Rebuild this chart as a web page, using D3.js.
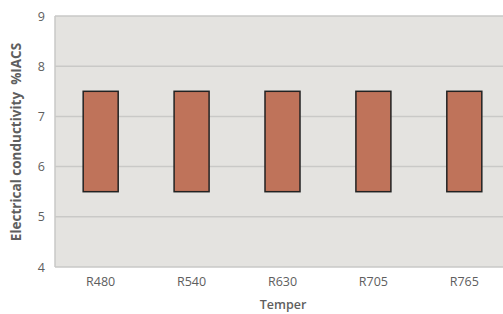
<!DOCTYPE html>
<html>
<head>
<meta charset="utf-8">
<style>
	body { margin: 0; background: #fff; }
	text { font-family: "Open Sans", sans-serif; fill: #5e5e5e; }
	.grid line { stroke: #c9c9c7; stroke-width: 1.5px; }
	.bar { fill: #bf735a; stroke: #222; stroke-width: 1.5px; }
</style>
</head>
<body>
<div id="chart"></div>
<script src="https://d3js.org/d3.v7.min.js"></script>
<script>
	// data
	const tempers = ["R480", "R540", "R630", "R705", "R765"];
	const lowValues = [5.5, 5.5, 5.5, 5.5, 5.5];
	const highValues = [7.5, 7.5, 7.5, 7.5, 7.5];
	const yTicks = [4, 5, 6, 7, 8, 9];

	const svgWidth = 503, svgHeight = 314;
	const margin = { top: 16, right: -7, bottom: 47, left: 55 };
	const width = svgWidth - margin.left - margin.right;
	const height = svgHeight - margin.top - margin.bottom;

	const svg = d3.select("#chart")
		.append("svg")
		.attr("width", svgWidth)
		.attr("height", svgHeight);

	const g = svg.append("g")
		.attr("transform", `translate(${margin.left}, ${margin.top})`);

	const x = d3.scaleBand().domain(tempers).range([0, width]).paddingInner(0.615).paddingOuter(0.31);
	const y = d3.scaleLinear().domain([4, 9]).range([height, 0]);

	// plot background
	g.append("rect")
		.attr("width", width)
		.attr("height", height)
		.attr("fill", "#e4e3e0");

	// gridlines
	g.append("g")
		.attr("class", "grid")
		.selectAll("line")
		.data(yTicks)
		.join("line")
		.attr("x1", 0)
		.attr("x2", width)
		.attr("y1", d => y(d))
		.attr("y2", d => y(d));

	// left border
	g.append("line")
		.attr("x1", 0).attr("x2", 0)
		.attr("y1", 0).attr("y2", height)
		.attr("stroke", "#c9c9c7")
		.attr("stroke-width", 1.5);

	// floating bars
	g.selectAll(".bar")
		.data(tempers)
		.join("rect")
		.attr("class", "bar")
		.attr("x", d => x(d))
		.attr("width", x.bandwidth())
		.attr("y", (d, i) => y(highValues[i]))
		.attr("height", (d, i) => y(lowValues[i]) - y(highValues[i]));

	// y axis
	const yAxis = g.append("g")
		.call(d3.axisLeft(y).tickValues(yTicks).tickSize(0).tickPadding(10).tickFormat(d3.format("d")));
	yAxis.select(".domain").remove();
	yAxis.selectAll("text").style("font-size", "12.5px");

	// x axis
	const xAxis = g.append("g")
		.attr("transform", `translate(0, ${height})`)
		.call(d3.axisBottom(x).tickSize(0).tickPadding(10));
	xAxis.select(".domain").remove();
	xAxis.selectAll("text").style("font-size", "12.5px");

	// axis titles
	svg.append("text")
		.attr("x", 283)
		.attr("y", 309)
		.attr("text-anchor", "middle")
		.style("font-size", "12.5px")
		.style("font-weight", "600")
		.text("Temper");

	svg.append("text")
		.attr("transform", "translate(21, 142) rotate(-90)")
		.attr("text-anchor", "middle")
		.style("font-size", "13.5px")
		.style("font-weight", "bold")
		.style("white-space", "pre")
		.text("Electrical conductivity  %IACS");
</script>
</body>
</html>
